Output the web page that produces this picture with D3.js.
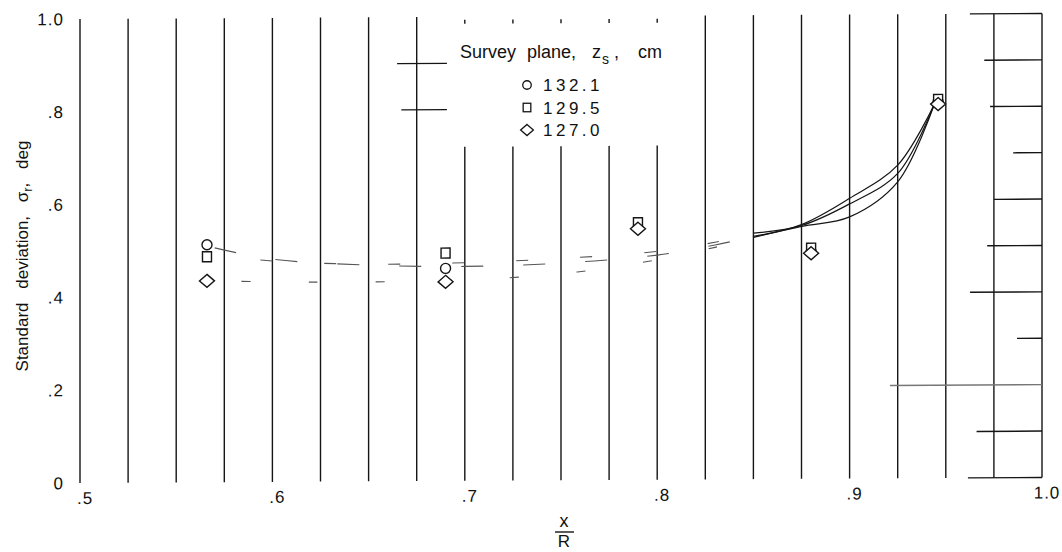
<!DOCTYPE html>
<html>
<head>
<meta charset="utf-8">
<script src="https://cdn.jsdelivr.net/npm/d3@7"></script>
<style>
  body { margin: 0; background: #fff; }
  svg { display: block; }
  text { font-family: "Liberation Sans", Arial, sans-serif; fill: #111; }
</style>
</head>
<body>
<svg id="chart" width="1062" height="552"></svg>
<script>
// ---- data -------------------------------------------------------------
const xTicks = [0.5, 0.6, 0.7, 0.8, 0.9, 1.0];
const xTickLabels = [".5", ".6", ".7", ".8", ".9", "1.0"];
const yTicks = [0, 0.2, 0.4, 0.6, 0.8, 1.0];
const yTickLabels = ["0", ".2", ".4", ".6", ".8", "1.0"];

// survey planes z_s, cm
const seriesNames = ["132.1", "129.5", "127.0"];
const seriesSymbols = ["circle", "square", "diamond"];

// radial station x/R and standard deviation sigma_r, deg
const xOverR = [0.566, 0.690, 0.790, 0.880, 0.946];
const sigma1321 = [0.512, 0.458, 0.542, 0.489, 0.811];
const sigma1295 = [0.486, 0.491, 0.554, 0.497, 0.816];
const sigma1270 = [0.434, 0.429, 0.541, 0.486, 0.806];

// faired curves, [x/R, sigma]
const fair1321 = [[0.570,0.505],[0.600,0.480],[0.650,0.466],[0.700,0.462],[0.750,0.468],[0.800,0.484],[0.830,0.505],[0.850,0.523],[0.875,0.548],[0.900,0.604],[0.925,0.675],[0.944,0.805]];
const fair1295 = [[0.570,0.490],[0.600,0.476],[0.650,0.468],[0.700,0.470],[0.750,0.478],[0.800,0.492],[0.830,0.511],[0.850,0.530],[0.875,0.546],[0.900,0.592],[0.925,0.657],[0.944,0.805]];
const fair1270 = [[0.570,0.434],[0.620,0.430],[0.690,0.432],[0.750,0.445],[0.800,0.474],[0.830,0.500],[0.850,0.521],[0.875,0.544],[0.900,0.564],[0.925,0.639],[0.944,0.805]];

// vertical grid every 0.025 of x/R
const gridX = d3.range(20).map(i => 0.5 + i * 0.025);
// grid lines that are interrupted by the legend
const gridXLegendGap = [0.700, 0.725, 0.750, 0.775, 0.800];
const legendGap = [0.72, 0.985];
// horizontal grid pieces: level and starting x/R (all run to x/R = 1.0)
const hGridLevel = [1.0, 0.9, 0.8, 0.7, 0.6, 0.5, 0.4, 0.3, 0.2, 0.1, 0.0];
const hGridStart = [0.9625, 0.970, 0.973, 0.985, 0.975, 0.9715, 0.9626, 0.987, 0.921, 0.966, 0.9615];
// short horizontal pieces left of the legend
const hStubLevel = [0.9, 0.8];
const hStubFrom = [0.6648, 0.667];
const hStubTo = [0.6907, 0.6907];

// ---- scales ------------------------------------------------------------
const svg = d3.select("#chart");
const x = d3.scaleLinear().domain([0.5, 1.0]).range([80, 1042]);
const y = d3.scaleLinear().domain([0, 1.0]).range([483, 19]);

const ink = "#151515";
// the plot frame sits with a slight tilt
const plot = svg.append("g").attr("transform", "translate(80,0) skewY(-0.33) translate(-80,0)");

// vertical grid
plot.append("g").selectAll("line")
  .data(gridX.filter(v => !gridXLegendGap.some(g => Math.abs(g - v) < 1e-6)))
  .join("line")
  .attr("x1", d => x(d)).attr("x2", d => x(d))
  .attr("y1", y(0)).attr("y2", y(1))
  .attr("stroke", ink).attr("stroke-width", 1.4);

const gapped = plot.append("g");
gridXLegendGap.forEach(v => {
  gapped.append("line").attr("x1", x(v)).attr("x2", x(v))
    .attr("y1", y(0)).attr("y2", y(legendGap[0]))
    .attr("stroke", ink).attr("stroke-width", 1.4);
  gapped.append("line").attr("x1", x(v)).attr("x2", x(v))
    .attr("y1", y(legendGap[1])).attr("y2", y(1) + 3)
    .attr("stroke", ink).attr("stroke-width", 1.4);
});

// right-hand edge
plot.append("line")
  .attr("x1", x(1.0)).attr("x2", x(1.0)).attr("y1", y(0)).attr("y2", y(1))
  .attr("stroke", ink).attr("stroke-width", 1.4);

// horizontal grid pieces
plot.append("g").selectAll("line")
  .data(hGridLevel.map((v, i) => ({ v, s: hGridStart[i] })))
  .join("line")
  .attr("x1", d => x(d.s)).attr("x2", x(1.0))
  .attr("y1", d => y(d.v)).attr("y2", d => y(d.v))
  .attr("stroke", d => d.v === 0.2 ? "#777" : ink)
  .attr("stroke-width", 1.4);

plot.append("g").selectAll("line")
  .data(hStubLevel.map((v, i) => ({ v, a: hStubFrom[i], b: hStubTo[i] })))
  .join("line")
  .attr("x1", d => x(d.a)).attr("x2", d => x(d.b))
  .attr("y1", d => y(d.v)).attr("y2", d => y(d.v))
  .attr("stroke", ink).attr("stroke-width", 1.3);

// faired curves: faint broken inboard part, solid outboard part
const line = d3.line().x(d => x(d[0])).y(d => y(d[1])).curve(d3.curveCatmullRom.alpha(0.5));
const fairs = [fair1321, fair1295, fair1270];
const dashes = ["22,40", "12,52", "9,58"];
const offsets = [0, 18, 40];
fairs.forEach((f, i) => {
  plot.append("path").attr("d", line(f.filter(p => p[0] <= 0.851)))
    .attr("fill", "none").attr("stroke", "#555").attr("stroke-width", 1.1)
    .attr("stroke-dasharray", dashes[i]).attr("stroke-dashoffset", offsets[i]);
  plot.append("path").attr("d", line(f.filter(p => p[0] >= 0.849)))
    .attr("fill", "none").attr("stroke", ink).attr("stroke-width", 1.2);
});

// symbols
function drawSymbol(g, kind, cx, cy, s) {
  if (kind === "circle") {
    g.append("circle").attr("cx", cx).attr("cy", cy).attr("r", 5 * s);
  } else if (kind === "square") {
    g.append("rect").attr("x", cx - 4.5 * s).attr("y", cy - 5 * s)
      .attr("width", 9 * s).attr("height", 10 * s);
  } else {
    g.append("path").attr("d",
      `M${cx},${cy - 6.5 * s}L${cx + 7.5 * s},${cy}L${cx},${cy + 6.5 * s}L${cx - 7.5 * s},${cy}Z`);
  }
}
const allSigma = [sigma1321, sigma1295, sigma1270];
const pts = plot.append("g").attr("fill", "#fff").attr("stroke", ink).attr("stroke-width", 1.4);
allSigma.forEach((ser, i) => {
  ser.forEach((v, j) => drawSymbol(pts, seriesSymbols[i], x(xOverR[j]), y(v), 1));
});

// tick labels
plot.append("g").selectAll("text")
  .data(xTicks.map((v, i) => ({ v, t: xTickLabels[i] })))
  .join("text")
  .attr("x", d => x(d.v) + 5).attr("y", y(0) + 21)
  .attr("text-anchor", "middle").attr("font-size", 17).attr("letter-spacing", 1)
  .text(d => d.t);

plot.append("g").selectAll("text")
  .data(yTicks.map((v, i) => ({ v, t: yTickLabels[i] })))
  .join("text")
  .attr("x", 64).attr("y", d => y(d.v) + 6)
  .attr("text-anchor", "end").attr("font-size", 17).attr("letter-spacing", 1)
  .text(d => d.t);

// axis titles
const yt = svg.append("text")
  .attr("transform", "translate(28,256) rotate(-90)")
  .attr("text-anchor", "middle").attr("font-size", 17).attr("word-spacing", 9);
yt.append("tspan").text("Standard deviation, σ");
yt.append("tspan").attr("font-size", 13).attr("dy", 4).text("r");
yt.append("tspan").attr("dy", -4).text(", deg");

svg.append("text").attr("x", 564).attr("y", 527).attr("text-anchor", "middle")
  .attr("font-size", 18).text("x");
svg.append("line").attr("x1", 555).attr("x2", 574).attr("y1", 532).attr("y2", 532)
  .attr("stroke", ink).attr("stroke-width", 1.4);
svg.append("text").attr("x", 564).attr("y", 547).attr("text-anchor", "middle")
  .attr("font-size", 17).text("R");

// legend
const lg = svg.append("g");
const title = lg.append("text").attr("y", 58).attr("font-size", 18);
title.append("tspan").attr("x", 460).text("Survey");
title.append("tspan").attr("x", 527).text("plane,");
title.append("tspan").attr("x", 592).text("z");
title.append("tspan").attr("x", 602).attr("dy", 6).attr("font-size", 14).text("s");
title.append("tspan").attr("x", 614).attr("dy", -6).text(",");
title.append("tspan").attr("x", 638).text("cm");

const lgSym = lg.append("g").attr("fill", "#fff").attr("stroke", ink).attr("stroke-width", 1.3);
seriesNames.forEach((name, i) => {
  const cy = 85 + i * 22.5;
  drawSymbol(lgSym, seriesSymbols[i], 527, cy, 0.85);
  lg.append("text").attr("x", 543).attr("y", cy + 6).attr("font-size", 17)
    .attr("letter-spacing", 3.5).text(name);
});
</script>
</body>
</html>
